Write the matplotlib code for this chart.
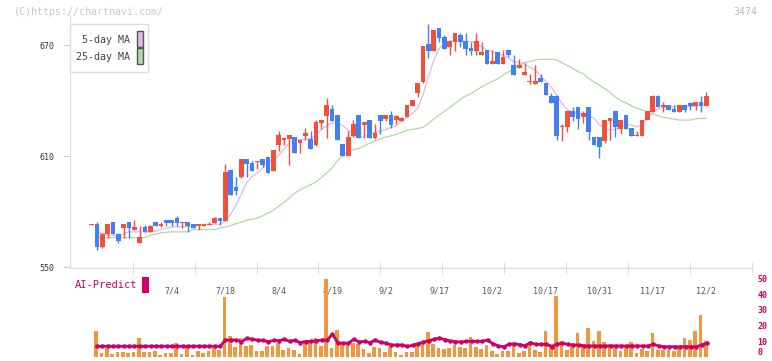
import numpy as np
import matplotlib
matplotlib.use("Agg")
import matplotlib.pyplot as plt
from matplotlib.patches import Rectangle

# daily candles, oldest first (index 115 = 12/2)
opens = [573.0, 573.1, 561.0, 568.2, 574.3, 568.2, 571.3, 574.3, 570.2, 563.1,
         571.6, 569.0, 574.3, 572.5, 575.4, 575.4, 576.5, 574.0, 574.3, 573.3,
         572.2, 572.5, 573.0, 574.0, 576.5, 575.0, 602.4, 593.2, 598.8, 608.4,
         606.2, 606.9, 608.4, 609.5, 602.1, 615.9, 619.0, 619.2, 620.3, 617.2,
         620.8, 619.2, 615.9, 627.8, 631.8, 635.4, 632.2, 616.5, 610.2, 620.8,
         632.2, 626.8, 629.5, 619.7, 632.2, 630.0, 632.2, 629.5, 629.1, 631.4,
         637.2, 644.2, 650.0, 670.5, 666.9, 679.2, 674.3, 669.1, 671.6, 675.4,
         672.2, 668.4, 666.9, 664.8, 667.3, 659.9, 666.2, 659.9, 667.3, 659.2,
         657.7, 654.0, 650.0, 649.1, 652.2, 649.5, 642.6, 642.6, 625.9, 625.8,
         634.3, 636.5, 631.3, 636.5, 620.3, 620.3, 618.3, 629.1, 634.3, 624.8,
         632.2, 625.1, 621.0, 621.0, 629.5, 634.0, 642.6, 636.5, 637.6, 635.4,
         634.0, 637.6, 638.6, 637.2, 639.2, 637.2]
highs = [573.3, 574.3, 568.5, 573.5, 574.5, 568.5, 573.3, 574.5, 575.4, 572.5,
         572.7, 572.7, 574.5, 574.3, 575.6, 575.6, 577.6, 574.5, 574.5, 573.5,
         573.3, 573.3, 574.3, 576.9, 576.7, 605.7, 602.6, 598.8, 608.6, 608.6,
         607.3, 607.5, 608.6, 609.7, 613.4, 623.5, 619.4, 621.6, 620.5, 618.8,
         625.1, 623.5, 629.5, 629.7, 641.4, 637.6, 632.4, 616.7, 623.5, 629.5,
         632.4, 628.6, 629.7, 627.3, 632.4, 632.4, 634.3, 632.0, 631.4, 637.6,
         640.5, 649.7, 669.7, 681.4, 678.3, 679.4, 675.4, 672.4, 676.7, 676.5,
         676.5, 671.6, 676.5, 671.6, 667.5, 667.3, 666.4, 667.3, 667.5, 664.6,
         662.4, 660.3, 654.3, 659.2, 654.3, 649.7, 643.9, 642.8, 627.3, 634.5,
         636.5, 636.7, 634.3, 636.7, 620.5, 620.5, 629.7, 630.7, 634.5, 629.7,
         632.4, 625.3, 623.7, 629.7, 634.5, 642.8, 642.8, 639.4, 637.8, 637.6,
         637.8, 637.8, 639.4, 639.4, 642.6, 644.6]
lows = [573.0, 559.4, 560.5, 566.0, 568.0, 563.1, 566.0, 566.0, 570.0, 563.0,
        569.0, 568.8, 572.0, 571.5, 572.3, 572.3, 572.3, 571.1, 568.9, 571.3,
        570.0, 572.3, 572.8, 573.8, 572.7, 574.8, 589.0, 589.1, 598.0, 598.8,
        602.0, 603.2, 604.3, 601.0, 602.0, 612.7, 615.9, 605.1, 611.8, 611.8,
        618.6, 613.8, 615.7, 624.6, 619.7, 628.9, 618.6, 610.2, 610.0, 620.6,
        619.7, 619.7, 619.7, 619.5, 621.9, 628.9, 625.0, 627.5, 628.9, 631.2,
        637.0, 642.1, 649.8, 663.0, 666.7, 671.6, 668.0, 664.8, 666.9, 669.1,
        664.8, 664.8, 664.8, 664.6, 659.9, 659.7, 659.9, 659.7, 663.5, 653.8,
        657.5, 653.8, 648.9, 648.9, 650.0, 643.0, 638.6, 618.6, 618.1, 623.2,
        628.9, 624.8, 627.8, 618.6, 616.1, 609.1, 617.2, 618.6, 620.6, 622.1,
        624.8, 621.0, 620.8, 620.8, 629.3, 633.8, 636.5, 634.0, 634.9, 634.0,
        633.8, 634.0, 634.9, 634.9, 634.0, 637.0]
closes = [573.3, 560.8, 568.2, 573.3, 568.0, 564.2, 573.1, 571.3, 571.6, 566.4,
          569.1, 572.5, 572.3, 573.2, 574.0, 574.0, 574.0, 574.3, 572.5, 571.3,
          573.1, 573.1, 573.6, 576.7, 575.0, 601.4, 589.1, 591.2, 608.4, 605.7,
          602.1, 607.3, 605.1, 601.0, 613.2, 621.4, 619.2, 621.4, 611.8, 618.6,
          622.4, 613.8, 628.4, 629.5, 637.6, 628.9, 618.6, 610.2, 620.3, 627.3,
          619.7, 628.4, 619.7, 622.4, 628.9, 632.2, 626.8, 631.8, 630.9, 637.4,
          640.3, 649.5, 669.5, 666.9, 678.1, 673.8, 668.0, 672.2, 676.5, 671.6,
          668.0, 666.9, 672.2, 666.2, 659.9, 661.4, 659.9, 663.5, 664.6, 653.8,
          659.2, 655.4, 650.5, 650.5, 650.2, 643.0, 638.6, 621.0, 626.2, 634.3,
          631.3, 630.0, 633.2, 623.2, 616.1, 615.0, 629.5, 630.5, 625.8, 629.5,
          624.8, 621.0, 621.3, 629.5, 634.3, 642.6, 636.5, 637.6, 634.9, 634.0,
          637.6, 634.9, 637.2, 639.2, 637.2, 642.6]

ma5 = [np.nan, 569.5, 568.2, 567.5, 567.3, 566.4, 568.2, 569.1, 569.1, 569.1,
       569.1, 569.1, 569.6, 570.4, 570.9, 571.8, 571.8, 571.8, 572.0, 572.3,
       572.7, 573.2, 573.2, 573.2, 573.2, 575.0, 578.5, 583.5, 589.5, 595.5,
       599.0, 601.0, 603.5, 606.0, 608.0, 610.5, 614.0, 617.0, 619.0, 619.0,
       619.0, 619.3, 621.5, 624.5, 626.5, 628.0, 628.0, 626.5, 624.0, 622.0,
       620.0, 620.5, 622.0, 622.8, 623.5, 624.5, 625.5, 626.5, 629.0, 631.0,
       633.0, 636.0, 643.0, 653.0, 661.5, 668.0, 670.9, 672.3, 672.3, 672.3,
       672.0, 671.8, 671.2, 669.0, 667.3, 666.4, 665.5, 664.5, 663.0, 661.0,
       660.5, 660.1, 658.0, 656.5, 653.5, 650.5, 647.5, 643.0, 638.5, 635.0,
       634.0, 633.0, 632.6, 632.2, 630.5, 627.0, 625.0, 624.1, 624.5, 625.5,
       626.8, 626.8, 625.8, 627.0, 631.0, 633.5, 635.5, 636.4, 636.4, 636.8,
       637.0, 637.0, 637.0, 637.0, 637.4, 637.8]
ma25 = [np.nan, 566.0, 566.0, 566.0, 566.0, 566.0, 566.0, 566.0, 566.0, 566.0,
        566.0, 567.3, 567.8, 568.6, 568.9, 569.1, 569.1, 569.1, 569.1, 570.4,
        570.4, 570.4, 570.4, 570.4, 571.2, 571.8, 572.5, 573.5, 574.3, 575.4,
        575.9, 576.5, 577.8, 579.2, 580.8, 583.0, 585.0, 587.5, 590.0, 591.8,
        593.2, 594.6, 596.2, 598.5, 601.0, 603.8, 607.5, 610.5, 612.5, 613.5,
        614.2, 615.5, 617.0, 618.2, 619.3, 620.3, 621.0, 621.8, 622.8, 624.0,
        624.5, 625.0, 625.6, 627.5, 630.0, 632.2, 634.2, 636.3, 638.5, 640.8,
        642.5, 643.8, 645.7, 647.5, 649.0, 650.5, 651.8, 653.8, 655.5, 657.5,
        659.2, 660.5, 661.2, 662.0, 662.3, 662.3, 662.3, 662.0, 660.5, 659.0,
        657.4, 655.8, 654.5, 652.0, 650.0, 648.4, 646.5, 644.5, 642.0, 640.0,
        638.8, 637.2, 636.0, 635.0, 634.0, 632.8, 631.8, 631.0, 630.4, 630.0,
        629.5, 629.5, 629.5, 630.2, 630.4, 630.4]

volume = [0, 16.6, 2.7, 6.1, 2.1, 3.4, 3.4, 2.7, 3.4, 12.2,
          3.4, 3.4, 4.0, 1.5, 2.7, 2.7, 9.1, 2.1, 6.7, 1.5,
          4.0, 2.7, 4.0, 6.1, 4.6, 38.2, 13.5, 6.5, 12.2, 7.2,
          7.8, 4.0, 4.0, 7.2, 7.2, 9.1, 4.6, 5.9, 4.6, 2.1,
          10.9, 10.9, 12.2, 7.2, 49.6, 5.9, 17.3, 8.4, 7.8, 9.1,
          8.4, 5.3, 2.7, 6.5, 5.9, 3.4, 6.5, 3.4, 1.2, 3.4,
          3.4, 9.0, 9.4, 16.0, 8.4, 5.6, 5.0, 5.6, 7.8, 6.5,
          5.9, 12.8, 6.5, 5.3, 7.8, 4.0, 2.1, 4.0, 4.0, 7.8,
          2.7, 4.0, 8.4, 4.8, 3.4, 16.6, 8.4, 38.8, 10.3, 4.6,
          7.2, 15.4, 8.4, 18.5, 10.5, 16.6, 9.7, 8.4, 5.9, 4.0,
          7.2, 9.7, 2.7, 5.3, 4.0, 15.4, 4.6, 4.6, 4.6, 4.0,
          6.5, 12.2, 10.9, 16.6, 26.7, 10.3]
ai_predict = [np.nan, 7.0, 7.0, 7.0, 7.0, 7.0, 7.0, 7.0, 7.0, 7.0,
              7.0, 7.0, 7.0, 7.0, 7.0, 7.0, 7.0, 7.0, 7.0, 7.0,
              7.0, 7.0, 7.0, 7.0, 7.0, 10.9, 10.9, 10.9, 9.9, 12.0,
              11.4, 10.9, 10.7, 9.9, 10.7, 10.5, 11.4, 10.1, 10.7, 9.3,
              9.9, 10.1, 10.5, 10.9, 10.9, 14.6, 9.3, 8.9, 8.9, 11.4,
              9.7, 10.1, 9.3, 10.9, 9.5, 8.9, 7.8, 7.8, 7.8, 6.9,
              7.6, 8.6, 9.7, 10.5, 11.4, 12.2, 11.2, 10.3, 9.9, 9.7,
              10.1, 10.1, 10.1, 10.1, 10.9, 8.6, 7.2, 6.7, 8.2, 8.6,
              8.0, 7.4, 9.3, 8.2, 8.2, 8.2, 6.7, 8.4, 8.9, 8.2,
              7.8, 7.8, 7.2, 7.2, 7.2, 7.2, 7.2, 7.2, 7.2, 7.2,
              7.2, 7.2, 7.2, 7.2, 7.2, 8.2, 7.2, 6.7, 6.7, 6.7,
              6.7, 6.7, 6.7, 6.7, 7.8, 8.9]

date_labels = ["7/4", "7/18", "8/4", "8/19", "9/2", "9/17",
               "10/2", "10/17", "10/31", "11/17", "12/2"]
date_idx = [15, 25, 35, 45, 55, 65, 75, 85, 95, 105, 115]
price_ticks = [550, 610, 670]
vol_ticks = [0, 10, 20, 30, 40, 50]

RED = "#f0503c"
BLUE = "#4080f0"
ORANGE = "#f0963c"
MAG = "#cc0066"
PINK = "#e8b4e8"
GREEN = "#b0d8a4"
MONO = "DejaVu Sans Mono"

W, H = 772, 361
fig = plt.figure(figsize=(W / 100, H / 100), dpi=100)


def fx(px):
    return px / W


def fy(py):
    return 1 - py / H


# main price panel
ax = fig.add_axes([fx(70), fy(268.3), fx(752) - fx(70), fy(15) - fy(268.3)])
idx = np.arange(len(opens))
o = np.array(opens)
c = np.array(closes)
col = np.where(c >= o, RED, BLUE)

ax.plot(idx, ma25, color=GREEN, lw=0.9, zorder=1)
ax.plot(idx, ma5, color=PINK, lw=0.9, zorder=1)
ax.vlines(idx, lows, highs, colors=col, lw=1.0, zorder=2)
ax.bar(idx, np.maximum(np.abs(c - o), 0.6), bottom=np.minimum(o, c),
       width=0.88, color=col, linewidth=0, zorder=3)

ax.set_xlim(-4.05, 123.43)
ax.set_ylim(549.4, 686.3)
for s in ["top", "right"]:
    ax.spines[s].set_visible(False)
for s in ["left", "bottom"]:
    ax.spines[s].set_color("#dddddd")
ax.set_yticks(price_ticks)
ax.set_yticklabels([str(t) for t in price_ticks], fontfamily=MONO,
                   fontsize=6, color="#333333")
ax.tick_params(axis="y", length=5, color="#cccccc", pad=6)
ax.set_xticks([7.67 + 11.59 * k for k in range(11)])
ax.set_xticklabels([])
ax.tick_params(axis="x", which="major", direction="inout", length=8,
               color="#dddddd")
ax.set_xticks(date_idx, minor=True)
ax.set_xticklabels(date_labels, minor=True, fontfamily=MONO, fontsize=6,
                   color="#555555")
ax.tick_params(axis="x", which="minor", length=0, pad=13)

# volume / AI panel
vax = fig.add_axes([fx(70), fy(357.3), fx(752) - fx(70), fy(278.3) - fy(357.3)])
vax.patch.set_visible(False)
vax.bar(idx - 0.18, volume, width=0.68, color=ORANGE, linewidth=0, zorder=1)
vax.plot(idx, ai_predict, color=MAG, lw=2, marker="o", ms=2.2, zorder=2)
vax.set_xlim(-4.05, 123.43)
vax.set_ylim(0, 50)
for s in vax.spines.values():
    s.set_visible(False)
vax.set_xticks([])
vax.yaxis.tick_right()
vax.set_yticks(vol_ticks)
vax.set_yticklabels([str(t) for t in vol_ticks], fontfamily=MONO,
                    fontsize=6, color=MAG, fontweight="bold")
vax.tick_params(axis="y", length=0, pad=4)
vax.get_yticklabels()[0].set_va("bottom")

# texts and legend
fig.text(fx(14), fy(12), "(C)https://chartnavi.com/", fontfamily=MONO,
         fontsize=7.2, color="#c8c8c8", va="center")
fig.text(fx(757), fy(12), "3474", fontfamily=MONO, fontsize=7.2,
         color="#bbbbbb", va="center", ha="right")

fig.patches.append(Rectangle((fx(70), fy(72)), fx(148) - fx(70), fy(24) - fy(72),
                             transform=fig.transFigure, facecolor="white",
                             edgecolor="#dddddd", lw=1, zorder=5))
fig.text(fx(130), fy(40), "5-day MA", fontfamily=MONO, fontsize=7.2,
         color="#444444", va="center", ha="right", zorder=6)
fig.text(fx(130), fy(57), "25-day MA", fontfamily=MONO, fontsize=7.2,
         color="#444444", va="center", ha="right", zorder=6)
for ypx, colr in [(31.5, PINK), (48.5, GREEN)]:
    fig.patches.append(Rectangle((fx(137), fy(ypx + 15)), fx(6), 15 / H,
                                 transform=fig.transFigure, facecolor=colr,
                                 edgecolor="#555555", lw=1, zorder=6))

fig.text(fx(75), fy(285), "AI-Predict", fontfamily=MONO, fontsize=7.5,
         color=MAG, va="center")
fig.patches.append(Rectangle((fx(142), fy(293)), fx(7), 16 / H,
                             transform=fig.transFigure, facecolor=MAG,
                             edgecolor="none"))

fig.savefig("out.png", dpi=100)
